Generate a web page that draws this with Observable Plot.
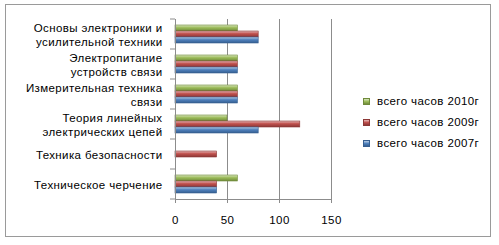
<!DOCTYPE html>
<html>
<head>
<meta charset="utf-8">
<script src="https://cdn.jsdelivr.net/npm/d3@7"></script>
<script src="https://cdn.jsdelivr.net/npm/@observablehq/plot@0.6"></script>
<style>
  body { margin: 0; background: #fff; }
  #wrap { position: relative; width: 499px; height: 245px; font-family: "Liberation Sans", Arial, sans-serif; }
  #frame { position: absolute; left: 5px; top: 4px; width: 486px; height: 233px; border: 1px solid #9a9a9a; box-sizing: border-box; }
  #chart { position: absolute; left: 0; top: 0; }
  #legend { position: absolute; left: 363px; top: 91px; font-size: 11.5px; letter-spacing: 0.4px; color: #000; }
  .item { display: flex; align-items: center; height: 21px; line-height: 21px; }
  .sw { width: 7px; height: 7px; margin-right: 7px; box-sizing: border-box; }
</style>
</head>
<body>
<div id="wrap"><div id="frame"></div><div id="chart"></div><div id="legend"></div></div>
<script>
const categories = [
  "Основы электроники и\nусилительной техники",
  "Электропитание\nустройств связи",
  "Измерительная техника\nсвязи",
  "Теория линейных\nэлектрических цепей",
  "Техника безопасности",
  "Техническое черчение"
];
const series = ["всего часов 2010г", "всего часов 2009г", "всего часов 2007г"];
const hours2010 = [60, 60, 60, 50, null, 60];
const hours2009 = [80, 60, 60, 120, 40, 40];
const hours2007 = [80, 60, 60, 80, null, 40];
const xTicks = [0, 50, 100, 150];

const colors = [
  {light: "#d7e4bd", mid: "#9bbb59", dark: "#6f8a3a"},
  {light: "#e6b9b8", mid: "#c0504d", dark: "#8c3836"},
  {light: "#b9cde5", mid: "#4f81bd", dark: "#365f91"}
];
const valuesBySeries = [hours2010, hours2009, hours2007];

const rows = [];
series.forEach((s, si) => {
  categories.forEach((c, ci) => {
    const v = valuesBySeries[si][ci];
    if (v != null) rows.push({series: s, category: c, value: v, si});
  });
});

const plot = Plot.plot({
  width: 499,
  height: 245,
  marginLeft: 175,
  marginRight: 168,
  marginTop: 17,
  marginBottom: 45,
  style: {fontFamily: "Liberation Sans, Arial, sans-serif", fontSize: "11.5px", color: "#000", background: "transparent", letterSpacing: "0.4px"},
  x: {domain: [0, 150], axis: null},
  y: {domain: series, paddingInner: 0, paddingOuter: 0.9, axis: null},
  fy: {domain: categories, padding: 0, axis: null},
  marks: [
    Plot.gridX({ticks: xTicks.slice(1), stroke: "#8c8c8c", strokeOpacity: 1}),
    ...series.map((s, si) => Plot.barX(rows.filter(d => d.si === si), {
      x: "value", y: "series", fy: "category",
      fill: `url(#grad${si})`, stroke: colors[si].dark, strokeWidth: 0.6
    })),
    Plot.ruleX([0], {stroke: "#8c8c8c"}),
    Plot.axisFy({anchor: "left", tickSize: 0, tickPadding: 13, label: null, fontSize: 11.5, lineHeight: 1.25}),
    Plot.axisX({ticks: xTicks, tickSize: 4, tickPadding: 12, label: null, fontSize: 11.5, stroke: "#8c8c8c"}),
    Plot.frame({anchor: "bottom", facetAnchor: "bottom", stroke: "#8c8c8c"})
  ]
});

document.getElementById("chart").appendChild(plot);

// gradients for 3D-like bars
const svg = d3.select(plot);
const defs = svg.insert("defs", ":first-child");
colors.forEach((c, i) => {
  const g = defs.append("linearGradient").attr("id", "grad" + i)
    .attr("x1", 0).attr("y1", 0).attr("x2", 0).attr("y2", 1);
  g.append("stop").attr("offset", "0%").attr("stop-color", c.light);
  g.append("stop").attr("offset", "45%").attr("stop-color", c.mid);
  g.append("stop").attr("offset", "100%").attr("stop-color", c.dark);
});

// category boundary ticks on the left axis, from the fy scale
const fy = plot.scale("fy");
const bounds = [];
categories.forEach(c => { const y0 = fy.apply(c); bounds.push(y0, y0 + fy.bandwidth); });
const uniq = Array.from(new Set(bounds.map(v => Math.round(v * 10) / 10)));
const xs = plot.scale("x");
const x0 = xs.apply(0);
svg.append("g").attr("stroke", "#8c8c8c")
  .selectAll("line").data(uniq).join("line")
  .attr("x1", x0 - 5).attr("x2", x0)
  .attr("y1", d => d).attr("y2", d => d);

// legend
const legend = d3.select("#legend");
series.forEach((s, i) => {
  const it = legend.append("div").attr("class", "item");
  it.append("div").attr("class", "sw")
    .style("background", `linear-gradient(${colors[i].light}, ${colors[i].mid} 50%, ${colors[i].dark})`)
    .style("border", `1px solid ${colors[i].dark}`);
  it.append("span").text(s);
});
</script>
</body>
</html>
